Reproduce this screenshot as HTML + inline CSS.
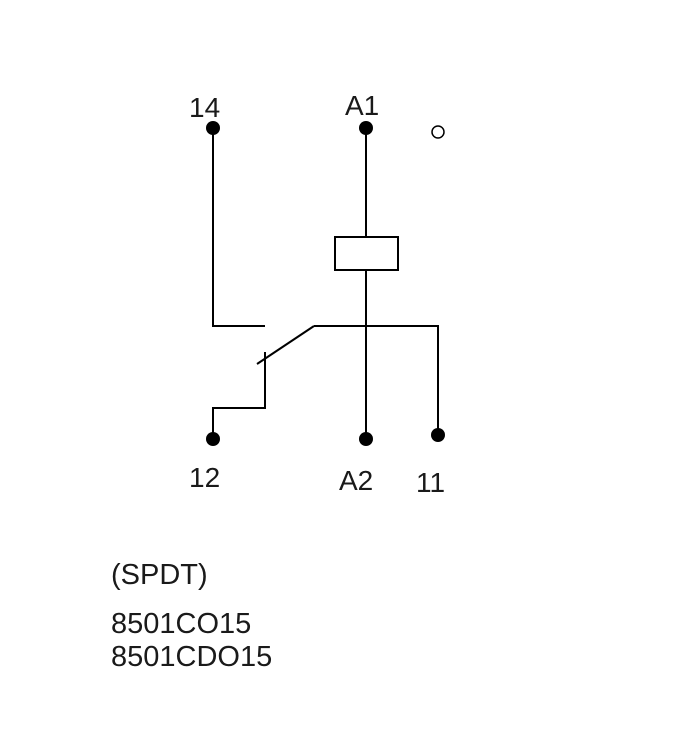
<!DOCTYPE html>
<html><head><style>
html,body{margin:0;padding:0;background:#fff;}
svg{display:block;}
text{font-family:"Liberation Sans",sans-serif;fill:#1a1a1a;}
</style></head><body>
<svg width="692" height="730" viewBox="0 0 692 730" xmlns="http://www.w3.org/2000/svg">
<g stroke="#000" stroke-width="2" fill="none">
<polyline points="213,128 213,326 265,326"/>
<line x1="366" y1="128" x2="366" y2="237"/>
<rect x="335" y="237" width="63" height="33"/>
<line x1="366" y1="270" x2="366" y2="439"/>
<polyline points="314,326 438,326 438,435"/>
<line x1="314" y1="326" x2="257" y2="364"/>
<polyline points="265,352 265,408 213,408 213,439"/>
<circle cx="438" cy="132" r="6" stroke-width="1.5"/>
</g>
<g fill="#000">
<circle cx="213" cy="128" r="7"/>
<circle cx="366" cy="128" r="7"/>
<circle cx="213" cy="439" r="7"/>
<circle cx="366" cy="439" r="7"/>
<circle cx="438" cy="435" r="7"/>
</g>
<g font-size="28">
<text x="189" y="117">14</text>
<text x="345" y="115">A1</text>
<text x="189" y="487">12</text>
<text x="339" y="490">A2</text>
<text x="416" y="492">11</text>
</g>
<g font-size="29">
<text x="111" y="584">(SPDT)</text>
<text x="111" y="633">8501CO15</text>
<text x="111" y="666">8501CDO15</text>
</g>
</svg>
</body></html>
